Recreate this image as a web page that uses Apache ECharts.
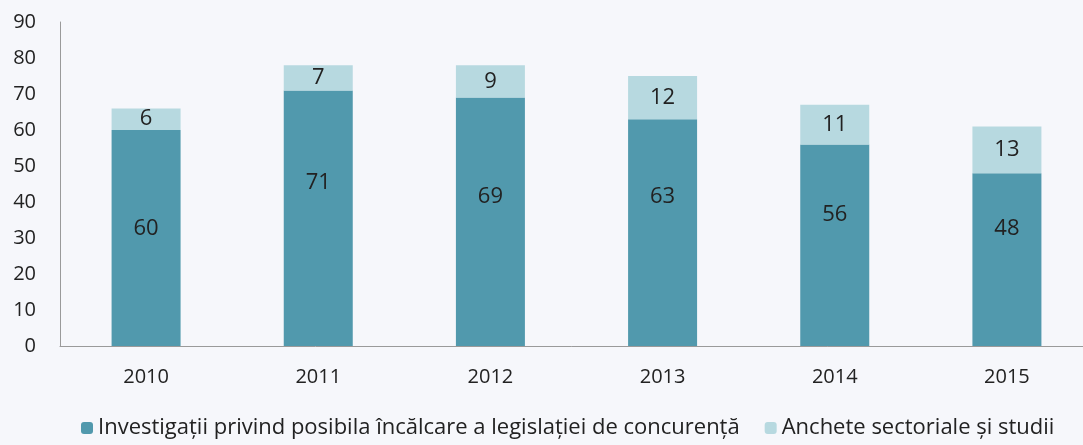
<!DOCTYPE html>
<html>
<head>
<meta charset="utf-8">
<script src="https://cdn.jsdelivr.net/npm/echarts@6/dist/echarts.min.js"></script>
<style>
  html, body { margin: 0; padding: 0; background: #f6f7fb; }
  #main { width: 1083px; height: 445px; }
</style>
</head>
<body>
<div id="main"></div>
<script>
    var years = ['2010', '2011', '2012', '2013', '2014', '2015'];
    var investigatii = [60, 71, 69, 63, 56, 48];
    var anchete = [6, 7, 9, 12, 11, 13];
    var seriesNames = ['Investigații privind posibila încălcare a legislației de concurență', 'Anchete sectoriale și studii'];
    // the dark-bar labels in the original sit above the middle of each bar
    var labelShift = [-9, -35, -25, -36, -30, -31];

    var myChart = echarts.init(document.getElementById('main'));
    var font = 'Open Sans';
    myChart.setOption({
        backgroundColor: '#f6f7fb',
        textStyle: { fontFamily: font },
        grid: { left: 60, width: 1033, top: 22, bottom: 99, outerBoundsMode: 'none', containLabel: false },
        legend: {
            bottom: 1,
            left: 76,
            itemWidth: 12,
            itemHeight: 12,
            itemGap: 25,
            textStyle: { fontSize: 22, color: '#222', fontFamily: font },
            data: seriesNames
        },
        xAxis: {
            type: 'category',
            data: years,
            axisLine: { lineStyle: { color: '#9a9a9a' } },
            axisTick: { show: false },
            axisLabel: { fontSize: 20, color: '#222', margin: 21 }
        },
        yAxis: {
            type: 'value',
            min: 0,
            max: 90,
            interval: 10,
            axisLine: { show: true, lineStyle: { color: '#9a9a9a' } },
            splitLine: { show: false },
            axisLabel: { fontSize: 20, color: '#222', margin: 24 }
        },
        series: [{
            name: seriesNames[0],
            type: 'bar',
            stack: 'total',
            barWidth: 69,
            data: investigatii.map(function (v, i) {
                return { value: v, label: { offset: [0, labelShift[i]] } };
            }),
            itemStyle: { color: '#5199ad' },
            label: { show: true, position: 'inside', fontSize: 22, color: '#222' }
        }, {
            name: seriesNames[1],
            type: 'bar',
            stack: 'total',
            barWidth: 69,
            data: anchete,
            itemStyle: { color: '#b7d9e0' },
            label: { show: true, position: 'inside', fontSize: 22, color: '#222' }
        }]
    });
</script>
</body>
</html>
